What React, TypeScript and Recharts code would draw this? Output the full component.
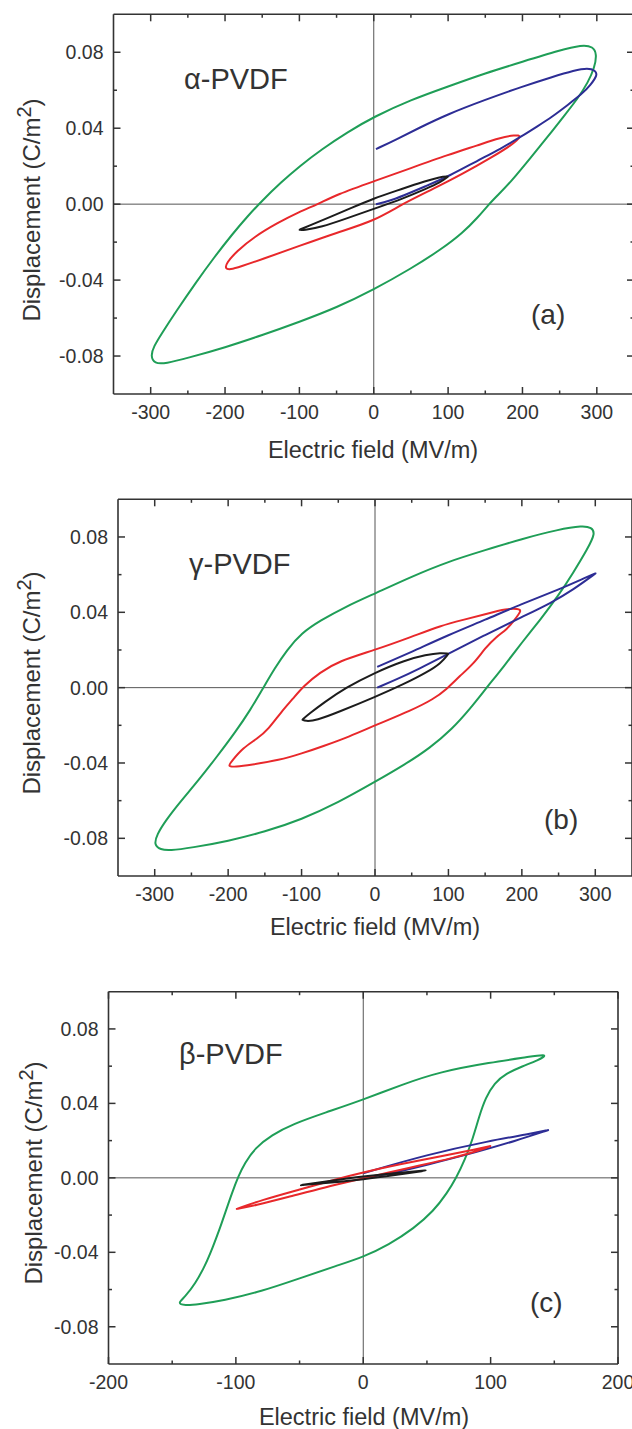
import React from 'react';
import { LineChart, Line, XAxis, YAxis, ReferenceLine } from 'recharts';

// ---- data (E in MV/m, D in C/m^2) ----
// sharp loop tips are listed twice so the spline reaches them
const alphaGreen = [
  [-300, -0.080], [-296, -0.075], [-285, -0.068], [-265, -0.056], [-240, -0.0417], [-215, -0.0282],
  [-190, -0.0157], [-170, -0.0065], [-150, 0.0019], [-125, 0.0114], [-100, 0.0199], [-70, 0.0289],
  [-35, 0.038], [0, 0.046], [50, 0.055], [100, 0.062], [150, 0.069], [200, 0.075], [250, 0.081],
  [280, 0.084], [295, 0.083], [300, 0.079], [297, 0.072], [288, 0.064], [275, 0.056], [255, 0.046],
  [235, 0.036], [210, 0.024], [185, 0.012], [165, 0.004], [155, 0.0], [140, -0.007], [120, -0.015],
  [90, -0.024], [50, -0.034], [0, -0.045], [-50, -0.0545], [-100, -0.062], [-150, -0.069],
  [-200, -0.0755], [-250, -0.081], [-280, -0.084], [-295, -0.084],
];
const alphaRed = [
  [200, 0.036], [190, 0.0365], [170, 0.035], [140, 0.031], [100, 0.026], [50, 0.019], [0, 0.012],
  [-50, 0.005], [-75, 0.0], [-100, -0.004], [-130, -0.01], [-160, -0.017], [-185, -0.025],
  [-198, -0.031], [-200, -0.034], [-193, -0.0345], [-180, -0.033], [-150, -0.029], [-100, -0.022],
  [-50, -0.015], [0, -0.009], [38, 0.0], [80, 0.008], [120, 0.016], [160, 0.025], [185, 0.031],
];
const alphaBlack = [
  [100, 0.0145], [100, 0.0145], [90, 0.0145], [60, 0.011], [30, 0.007], [0, 0.003], [-30, -0.002],
  [-60, -0.007], [-85, -0.011], [-100, -0.0135], [-100, -0.0135], [-95, -0.0138], [-70, -0.012],
  [-40, -0.008], [0, -0.0025], [40, 0.003], [70, 0.008], [90, 0.0115],
];
const alphaBlue = [
  [3, 0.029], [30, 0.034], [60, 0.04], [100, 0.0475], [150, 0.055], [200, 0.062], [240, 0.067],
  [270, 0.0705], [288, 0.0718], [298, 0.0705], [301, 0.068], [292, 0.063], [280, 0.058], [260, 0.052],
  [240, 0.046], [220, 0.041], [200, 0.036], [170, 0.029], [140, 0.023], [100, 0.0145], [70, 0.0095],
  [40, 0.0045], [20, 0.0015], [3, 0.0],
];

const gammaGreen = [
  [300, 0.082], [295, 0.085], [283, 0.086], [250, 0.084], [200, 0.079], [150, 0.073], [100, 0.067],
  [50, 0.059], [0, 0.05], [-40, 0.043], [-75, 0.0355], [-100, 0.029], [-120, 0.02], [-137, 0.01],
  [-152, 0.0], [-170, -0.012], [-190, -0.0235], [-215, -0.0365], [-240, -0.049], [-265, -0.0605],
  [-285, -0.0705], [-297, -0.078], [-301, -0.0835], [-292, -0.086], [-280, -0.0865], [-250, -0.085],
  [-200, -0.0815], [-150, -0.0765], [-100, -0.070], [-50, -0.061], [0, -0.05], [40, -0.041],
  [75, -0.032], [105, -0.022], [130, -0.011], [152, 0.0], [175, 0.011], [200, 0.024], [225, 0.036],
  [250, 0.049], [270, 0.061], [290, 0.074],
];
const gammaRed = [
  [200, 0.041], [195, 0.0418], [180, 0.042], [150, 0.039], [120, 0.036], [90, 0.033], [50, 0.027],
  [0, 0.02], [-50, 0.014], [-75, 0.008], [-97, 0.001], [-112, -0.006], [-128, -0.013],
  [-145, -0.022], [-160, -0.027], [-180, -0.032], [-195, -0.039], [-201, -0.042], [-190, -0.042],
  [-170, -0.041], [-130, -0.0385], [-100, -0.035], [-70, -0.031], [-35, -0.026], [0, -0.02],
  [50, -0.012], [80, -0.006], [97, -0.001], [115, 0.006], [135, 0.013], [150, 0.021], [165, 0.027],
  [180, 0.031], [190, 0.036],
];
const gammaBlack = [
  [100, 0.018], [100, 0.018], [90, 0.0185], [70, 0.0175], [40, 0.0145], [0, 0.008], [-40, 0.0],
  [-70, -0.008], [-90, -0.014], [-99, -0.017], [-99, -0.017], [-95, -0.0178], [-80, -0.0175],
  [-50, -0.013], [0, -0.005], [40, 0.002], [70, 0.008], [90, 0.013],
];
const gammaBlue = [
  [3, 0.011], [50, 0.019], [100, 0.028], [150, 0.036], [200, 0.0445], [250, 0.052], [290, 0.059],
  [301, 0.0608], [301, 0.0608], [270, 0.052], [240, 0.045], [200, 0.0375], [150, 0.028],
  [100, 0.018], [60, 0.01], [30, 0.0045], [3, 0.0],
];

const betaGreen = [
  [146, 0.0667], [130, 0.065], [100, 0.062], [60, 0.057], [30, 0.05], [0, 0.042], [-30, 0.035],
  [-55, 0.029], [-72, 0.023], [-85, 0.016], [-93, 0.008], [-98, 0.001], [-103, -0.008],
  [-108, -0.018], [-113, -0.028], [-118, -0.037], [-124, -0.047], [-132, -0.057], [-140, -0.064],
  [-146, -0.0675], [-140, -0.0685], [-130, -0.068], [-110, -0.066], [-80, -0.061], [-50, -0.054],
  [-20, -0.047], [0, -0.0425], [20, -0.036], [40, -0.027], [55, -0.018], [66, -0.008], [73, 0.0],
  [80, 0.01], [86, 0.021], [91, 0.033], [96, 0.043], [103, 0.051], [112, 0.056], [125, 0.06],
  [137, 0.063],
];
const betaRed = [
  [-100, -0.0168], [-100, -0.0168], [-80, -0.012], [-50, -0.0063], [-20, -0.0005], [0, 0.003],
  [30, 0.0075], [60, 0.0115], [90, 0.0155], [100, 0.0172], [100, 0.0172], [95, 0.0155],
  [70, 0.0105], [40, 0.006], [0, -0.0003], [-30, -0.005], [-60, -0.0105], [-85, -0.0148],
];
const betaBlue = [
  [0, 0.0025], [50, 0.0125], [100, 0.02], [130, 0.0235], [146, 0.0258], [146, 0.0258],
  [120, 0.02], [90, 0.014], [50, 0.007], [20, 0.002], [0, 0.0],
];
const betaBlack = [
  [-50, -0.004], [-50, -0.004], [-25, -0.0015], [0, 0.0008], [25, 0.0025], [50, 0.004], [50, 0.004],
  [25, 0.0015], [0, -0.0008], [-25, -0.0025],
];

// ticks
const xMajorWide = [-300, -200, -100, 0, 100, 200, 300];
const xMinorWide = [-250, -150, -50, 50, 150, 250];
const xMajorNarrow = [-200, -100, 0, 100, 200];
const xMinorNarrow = [-150, -50, 50, 150];
const yMajor = [-0.08, -0.04, 0, 0.04, 0.08];
const yMinor = [-0.06, -0.02, 0.02, 0.06];

const GREEN = '#1f9e57';
const RED = '#e8282b';
const BLUE = '#2d2d95';
const BLACK = '#1c1c1c';
const AX = '#333';
const FONT = '"Liberation Sans", Arial, Helvetica, sans-serif';

const toPts = (arr: number[][]) => arr.map(([x, y]) => ({ x, y }));
const isIn = (list: number[], v: number) => list.some((m) => Math.abs(m - v) < 1e-9);

const xTick = (majors: number[], side: 'bottom' | 'top') => (props: any) => {
  const { x, y, payload } = props;
  const v = payload.value;
  const major = isIn(majors, v);
  const len = major ? 7 : 3.5;
  const dir = side === 'bottom' ? -1 : 1;
  return (
    <g>
      <line x1={x} x2={x} y1={y} y2={y + dir * len} stroke={AX} strokeWidth={1.5} />
      {side === 'bottom' && major && (
        <text x={x} y={y + 25} textAnchor="middle" fontSize={19.5} fill="#333" fontFamily={FONT}>
          {v}
        </text>
      )}
    </g>
  );
};

const yTick = (side: 'left' | 'right') => (props: any) => {
  const { x, y, payload } = props;
  const v = payload.value;
  const major = isIn(yMajor, v);
  const len = major ? 7 : 3.5;
  const dir = side === 'left' ? 1 : -1;
  return (
    <g>
      <line x1={x} x2={x + dir * len} y1={y} y2={y} stroke={AX} strokeWidth={1.5} />
      {side === 'left' && major && (
        <text x={x - 10} y={y + 7} textAnchor="end" fontSize={19.5} fill="#333" fontFamily={FONT}>
          {v.toFixed(2)}
        </text>
      )}
    </g>
  );
};

type Series = { data: number[][]; color: string; open?: boolean };
type PanelCfg = {
  top: number; h: number; left: number; right: number; ptop: number; pbottom: number;
  xDomain: [number, number]; xMajor: number[]; xMinor: number[];
};

const W = 640;

function Panel({ cfg, series }: { cfg: PanelCfg; series: Series[] }) {
  const xTicks = [...cfg.xMajor, ...cfg.xMinor].sort((a, b) => a - b);
  const yTicks = [...yMajor, ...yMinor].sort((a, b) => a - b);
  const axisLine = { stroke: AX, strokeWidth: 1.6 };
  return (
    <div style={{ position: 'absolute', left: 0, top: cfg.top, width: W, height: cfg.h }}>
      <LineChart width={W} height={cfg.h} margin={{ top: 0, right: 0, bottom: 0, left: 0 }}>
        <XAxis xAxisId="b" type="number" dataKey="x" domain={cfg.xDomain} allowDataOverflow
          ticks={xTicks} interval={0} height={cfg.h - cfg.pbottom} tickLine={false} tickSize={0}
          tickMargin={0} axisLine={axisLine} tick={xTick(cfg.xMajor, 'bottom')} />
        <XAxis xAxisId="t" orientation="top" type="number" dataKey="x" domain={cfg.xDomain}
          allowDataOverflow ticks={xTicks} interval={0} height={cfg.ptop} tickLine={false}
          tickSize={0} tickMargin={0} axisLine={axisLine} tick={xTick(cfg.xMajor, 'top')} />
        <YAxis yAxisId="l" type="number" dataKey="y" domain={[-0.1, 0.1]} allowDataOverflow
          ticks={yTicks} interval={0} width={cfg.left} tickLine={false} tickSize={0} tickMargin={0}
          axisLine={axisLine} tick={yTick('left')} />
        <YAxis yAxisId="r" orientation="right" type="number" dataKey="y" domain={[-0.1, 0.1]}
          allowDataOverflow ticks={yTicks} interval={0} width={W - cfg.right} tickLine={false}
          tickSize={0} tickMargin={0} axisLine={axisLine} tick={yTick('right')} />
        <ReferenceLine xAxisId="b" yAxisId="l" x={0} stroke="#555" strokeWidth={1} />
        <ReferenceLine xAxisId="b" yAxisId="l" y={0} stroke="#555" strokeWidth={1} />
        {series.map((s, i) => (
          <Line key={i} xAxisId="b" yAxisId="l" data={toPts(s.data)} dataKey="y"
            type={s.open ? 'basis' : 'basisClosed'}
            stroke={s.color} strokeWidth={2} dot={false} activeDot={false}
            isAnimationActive={false} />
        ))}
      </LineChart>
    </div>
  );
}

const panelA: PanelCfg = {
  top: 0, h: 470, left: 113.5, right: 634, ptop: 14.3, pbottom: 394,
  xDomain: [-350, 350], xMajor: xMajorWide, xMinor: xMinorWide,
};
const panelB: PanelCfg = {
  top: 470, h: 480, left: 118, right: 632, ptop: 29.3, pbottom: 406,
  xDomain: [-350, 350], xMajor: xMajorWide, xMinor: xMinorWide,
};
const panelC: PanelCfg = {
  top: 950, h: 479, left: 108.5, right: 618, ptop: 41.7, pbottom: 414,
  xDomain: [-200, 200], xMajor: xMajorNarrow, xMinor: xMinorNarrow,
};

const txt = { fontFamily: FONT, fill: '#333' };

function YTitle({ x, y }: { x: number; y: number }) {
  return (
    <text transform={`translate(${x},${y}) rotate(-90)`} textAnchor="middle" fontSize={24} {...txt}>
      Displacement (C/m<tspan dy={-9} fontSize={20}>2</tspan><tspan dy={9}>)</tspan>
    </text>
  );
}

export default function App() {
  return (
    <div style={{ position: 'absolute', left: 0, top: 0, width: 632, height: 1429, overflow: 'hidden', background: '#fff' }}>
      <Panel cfg={panelA} series={[
        { data: alphaGreen, color: GREEN }, { data: alphaRed, color: RED },
        { data: alphaBlue, color: BLUE, open: true }, { data: alphaBlack, color: BLACK },
      ]} />
      <Panel cfg={panelB} series={[
        { data: gammaGreen, color: GREEN }, { data: gammaRed, color: RED },
        { data: gammaBlue, color: BLUE, open: true }, { data: gammaBlack, color: BLACK },
      ]} />
      <Panel cfg={panelC} series={[
        { data: betaGreen, color: GREEN }, { data: betaBlue, color: BLUE, open: true },
        { data: betaRed, color: RED }, { data: betaBlack, color: BLACK },
      ]} />
      <svg width={632} height={1429} style={{ position: 'absolute', left: 0, top: 0, pointerEvents: 'none' }}>
        <text x={184} y={89} fontSize={29} {...txt}>α-PVDF</text>
        <text x={531} y={324} fontSize={28} {...txt}>(a)</text>
        <text x={373} y={458} textAnchor="middle" fontSize={23.5} {...txt}>Electric field (MV/m)</text>
        <YTitle x={40} y={210} />

        <text x={189} y={574} fontSize={29} {...txt}>γ-PVDF</text>
        <text x={544} y={829} fontSize={28} {...txt}>(b)</text>
        <text x={375} y={935} textAnchor="middle" fontSize={23.5} {...txt}>Electric field (MV/m)</text>
        <YTitle x={40} y={683} />

        <text x={179} y={1064} fontSize={29} {...txt}>β-PVDF</text>
        <text x={530} y={1312} fontSize={28} {...txt}>(c)</text>
        <text x={364} y={1425} textAnchor="middle" fontSize={23.5} {...txt}>Electric field (MV/m)</text>
        <YTitle x={42} y={1173} />
      </svg>
    </div>
  );
}
